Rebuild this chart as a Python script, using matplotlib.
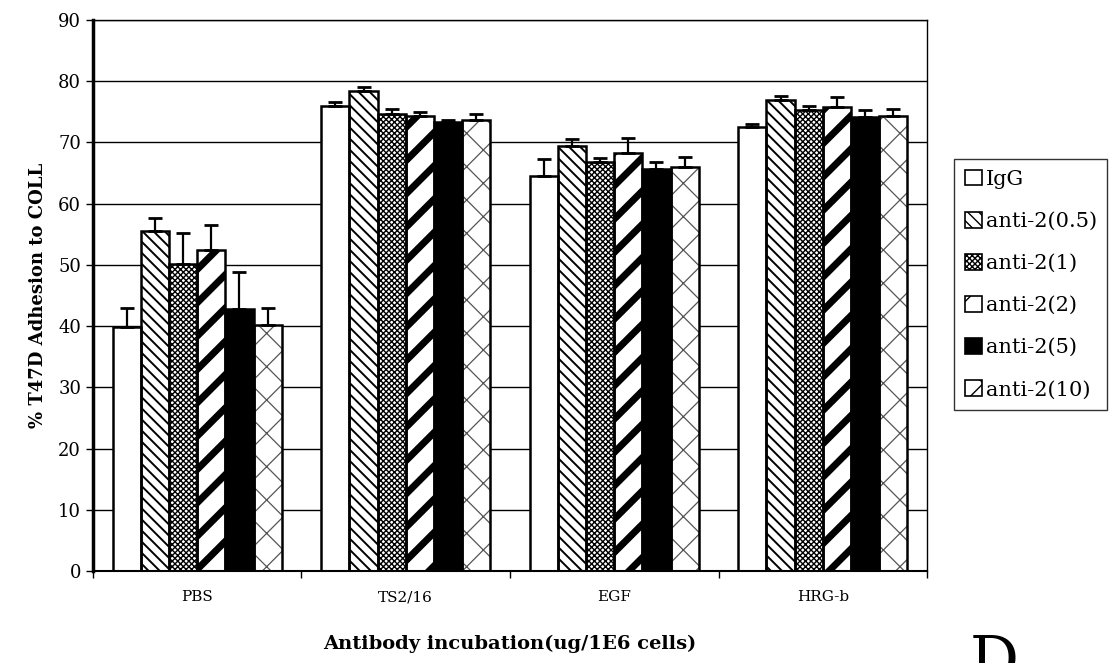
import numpy as np
import matplotlib
matplotlib.use('Agg')
import matplotlib.pyplot as plt
from matplotlib.patches import Patch

# 字体
plt.rcParams['font.family'] = ['DejaVu Serif']

# 数据
groups = ['PBS', 'TS2/16', 'EGF', 'HRG-b']
series = ['IgG', 'anti-2(0.5)', 'anti-2(1)', 'anti-2(2)', 'anti-2(5)', 'anti-2(10)']

igg = [39.8, 76.0, 64.5, 72.6]
anti_05 = [55.5, 78.4, 69.4, 77.0]
anti_1 = [50.2, 74.6, 66.8, 75.3]
anti_2 = [52.4, 74.3, 68.3, 75.8]
anti_5 = [42.8, 73.3, 65.7, 74.1]
anti_10 = [40.2, 73.7, 66.0, 74.4]

err_igg = [3.2, 0.6, 2.8, 0.4]
err_05 = [2.2, 0.7, 1.2, 0.6]
err_1 = [5.0, 0.9, 0.7, 0.6]
err_2 = [4.1, 0.6, 2.4, 1.6]
err_5 = [6.1, 0.3, 1.1, 1.2]
err_10 = [2.8, 0.9, 1.6, 1.0]

values = [igg, anti_05, anti_1, anti_2, anti_5, anti_10]
errors = [err_igg, err_05, err_1, err_2, err_5, err_10]

# 样式: (填充色, 图案, 图案线宽, 图案颜色)
styles = [
    ('white', '', 1.0, 'black'),
    ('white', '\\\\\\', 1.4, 'black'),
    ('white', 'xxxxxx', 1.0, 'black'),
    ('white', '/', 5.0, 'black'),
    ('black', '', 1.0, 'black'),
    ('white', 'x', 0.9, '#555555'),
]

fig = plt.figure(figsize=(11.15, 6.63), dpi=100)
ax = fig.add_axes([0.0834, 0.1388, 0.748, 0.831])

x = np.arange(len(groups))
w = 0.135
handles = []
for i, (vals, errs) in enumerate(zip(values, errors)):
    fc, hatch, hlw, hc = styles[i]
    pos = x + (i - 2.5) * w
    with plt.rc_context({'hatch.linewidth': hlw, 'hatch.color': hc}):
        bars = ax.bar(pos, vals, w, color=fc, edgecolor=hc, hatch=hatch,
                      linewidth=0, zorder=2)
        for b in bars:
            try:
                b.set_hatch_linewidth(hlw)
            except AttributeError:
                pass
    ax.bar(pos, vals, w, fill=False, edgecolor='black', linewidth=1.8, zorder=3)
    ax.errorbar(pos, vals, yerr=[np.zeros(len(errs)), errs], fmt='none',
                ecolor='black', elinewidth=1.6, capsize=5, capthick=2, zorder=4)
    with plt.rc_context({'hatch.linewidth': min(hlw, 1.5), 'hatch.color': hc}):
        h = Patch(facecolor=fc, edgecolor='black', hatch=hatch, linewidth=1.2)
    handles.append(h)

ax.set_ylim(0, 90)
ax.set_xlim(-0.5, 3.5)
ax.set_yticks(range(0, 91, 10))
ax.yaxis.grid(True, color='black', linewidth=1.0)
ax.set_axisbelow(True)
ax.set_xticks(x)
ax.set_xticklabels(groups, fontsize=11)
ax.set_xticks(np.arange(-0.5, 4.0, 1.0), minor=True)
ax.tick_params(axis='x', which='major', length=0, pad=14)
ax.tick_params(axis='x', which='minor', length=5, width=1, direction='out')
ax.tick_params(axis='y', labelsize=13, length=5, width=1, direction='out')

ax.spines['left'].set_linewidth(2.5)
ax.spines['bottom'].set_linewidth(1.5)
ax.spines['top'].set_linewidth(1.0)
ax.spines['right'].set_linewidth(1.0)

ax.set_ylabel('% T47D Adhesion to COLL', fontsize=13, fontweight='bold', labelpad=8)
ax.set_xlabel('Antibody incubation(ug/1E6 cells)', fontsize=14, fontweight='bold', labelpad=22)

leg = fig.legend(handles, series, loc='upper left', bbox_to_anchor=(0.856, 0.76),
                 fontsize=15, frameon=True, fancybox=False, edgecolor='black',
                 handlelength=0.8, handleheight=0.8, handletextpad=0.2,
                 labelspacing=1.1, borderpad=0.5, borderaxespad=0)
leg.get_frame().set_linewidth(1.0)

fig.text(0.87, -0.045, 'D', fontsize=44, ha='left', va='bottom')

fig.savefig('out.png', dpi=100)
